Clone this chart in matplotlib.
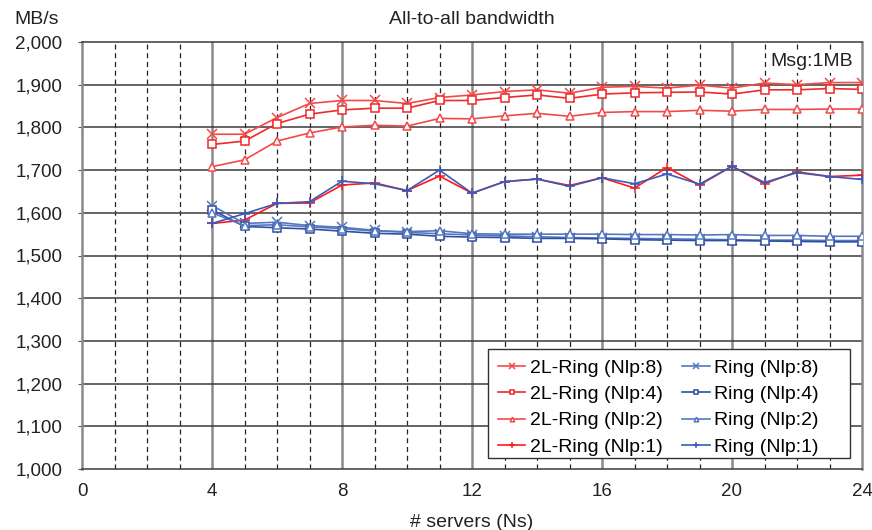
import matplotlib
matplotlib.use("Agg")
import matplotlib.pyplot as plt
from matplotlib.patches import Rectangle

plt.rcParams['font.family'] = ['Liberation Sans', 'DejaVu Sans']

servers = list(range(4, 25))

l2_nlp8 = [1784, 1784, 1823, 1856, 1863, 1863, 1856, 1870, 1876, 1884, 1888,
           1880, 1894, 1896, 1892, 1899, 1892, 1904, 1900, 1905, 1905]
l2_nlp4 = [1760, 1768, 1809, 1831, 1841, 1845, 1845, 1863, 1863, 1870, 1876,
           1868, 1878, 1881, 1882, 1883, 1878, 1888, 1888, 1891, 1889]
l2_nlp2 = [1708, 1724, 1768, 1787, 1801, 1805, 1803, 1821, 1820, 1827, 1833,
           1826, 1835, 1837, 1837, 1840, 1838, 1842, 1842, 1843, 1843]
l2_nlp1 = [1575, 1583, 1622, 1623, 1665, 1670, 1652, 1686, 1646, 1673, 1679,
           1664, 1682, 1658, 1706, 1665, 1709, 1668, 1696, 1685, 1688]

ring_nlp8 = [1617, 1575, 1578, 1570, 1566, 1559, 1554, 1551, 1548, 1546, 1544,
             1542, 1541, 1540, 1539, 1538, 1537, 1536, 1536, 1535, 1535]
ring_nlp4 = [1607, 1568, 1565, 1562, 1557, 1552, 1550, 1545, 1543, 1542, 1540,
             1540, 1539, 1537, 1536, 1535, 1535, 1534, 1533, 1532, 1532]
ring_nlp2 = [1600, 1570, 1572, 1567, 1563, 1557, 1556, 1558, 1551, 1550, 1550,
             1550, 1550, 1549, 1549, 1548, 1549, 1547, 1547, 1545, 1545]
ring_nlp1 = [1575, 1598, 1622, 1626, 1674, 1668, 1652, 1700, 1646, 1673, 1679,
             1662, 1682, 1668, 1691, 1667, 1709, 1671, 1694, 1685, 1678]

x_ticks = [0, 4, 8, 12, 16, 20, 24]
y_ticks = list(range(1000, 2001, 100))

W, H = 872, 530
AX_L, AX_R, AX_T, AX_B = 82, 862, 42, 469

fig = plt.figure(figsize=(W/100, H/100), dpi=100)
ax = fig.add_axes([AX_L/W, 1-AX_B/H, (AX_R-AX_L)/W, (AX_B-AX_T)/H])
ax.set_xlim(0, 24)
ax.set_ylim(1000, 2000)


def axfx(px):
    return (px - AX_L) / (AX_R - AX_L)


def axfy(py):
    return (AX_B - py) / (AX_B - AX_T)


# grid
for x in range(1, 24):
    if x % 4 == 0:
        ax.axvline(x, color='#8a8a8a', lw=1.8, zorder=1)
    else:
        ax.axvline(x, color='#222222', lw=0.9, ls=(0, (4, 3)), zorder=1)
for y in y_ticks[1:-1]:
    ax.axhline(y, color='#3a3a3a', lw=1.1, zorder=1)

for s in ['left', 'right']:
    ax.spines[s].set_color('#8a8a8a')
    ax.spines[s].set_linewidth(1.8)
for s in ['top', 'bottom']:
    ax.spines[s].set_color('#3a3a3a')
    ax.spines[s].set_linewidth(1.1)

red_a = '#f24a4a'
red_b = '#ee2a2a'
blue_a = '#5577c0'
blue_b = '#2f4fa3'

series = [
    (l2_nlp8, '2L-Ring (Nlp:8)', red_a, 'x', 'none'),
    (l2_nlp4, '2L-Ring (Nlp:4)', red_b, 's', 'white'),
    (l2_nlp2, '2L-Ring (Nlp:2)', red_a, '^', 'white'),
    (l2_nlp1, '2L-Ring (Nlp:1)', '#ff1a1a', '+', 'none'),
    (ring_nlp8, 'Ring (Nlp:8)', blue_a, 'x', 'none'),
    (ring_nlp4, 'Ring (Nlp:4)', blue_b, 's', 'white'),
    (ring_nlp2, 'Ring (Nlp:2)', blue_a, '^', 'white'),
    (ring_nlp1, 'Ring (Nlp:1)', '#3a5cb8', '+', 'none'),
]
handles = []
for vals, lab, c, m, mfc in series:
    ms = 6.5 if m in ('x', '+') else 5.5
    h, = ax.plot(servers, vals, color=c, lw=1.2, marker=m, ms=ms,
                 mfc=mfc, mec=c, mew=1.1, label=lab, zorder=3)
    handles.append(h)

ax.set_xticks(x_ticks)
ax.set_yticks(y_ticks)
ax.set_yticklabels([f"{v:,}" for v in y_ticks])
ax.tick_params(axis='x', labelsize=13.5, colors='#222222', length=0, pad=10)
ax.tick_params(axis='y', labelsize=13.5, colors='#222222', length=3,
               color='#555555', pad=11)

ax.set_xlabel('# servers (Ns)', fontsize=14, color='#222222', labelpad=10)
fig.text(472/W, 1-19/H, 'All-to-all bandwidth', ha='center', va='center',
         fontsize=14, color='#222222')
fig.text(14/W, 1-19/H, 'MB/s', ha='left', va='center', fontsize=14,
         color='#222222')
ax.text(axfx(853), axfy(62), 'Msg:1MB', transform=ax.transAxes, ha='right',
        va='center', fontsize=14, color='#222222', zorder=4,
        bbox=dict(facecolor='white', edgecolor='none', pad=2))

# legend frame
ax.add_patch(Rectangle((axfx(488), axfy(458)), axfx(850) - axfx(488),
                       axfy(349) - axfy(458), transform=ax.transAxes,
                       facecolor='white', edgecolor='#333333', lw=1.0,
                       zorder=5))
leg = ax.legend(handles=handles, ncol=2, loc='upper left',
                bbox_to_anchor=(axfx(498), axfy(359)), borderaxespad=0,
                fontsize=14, frameon=False, markerscale=0.6,
                handlelength=1.4, columnspacing=1.0, labelspacing=0.45,
                borderpad=0.0, handletextpad=0.25)
leg.set_zorder(6)

fig.savefig('out.png', dpi=100)
